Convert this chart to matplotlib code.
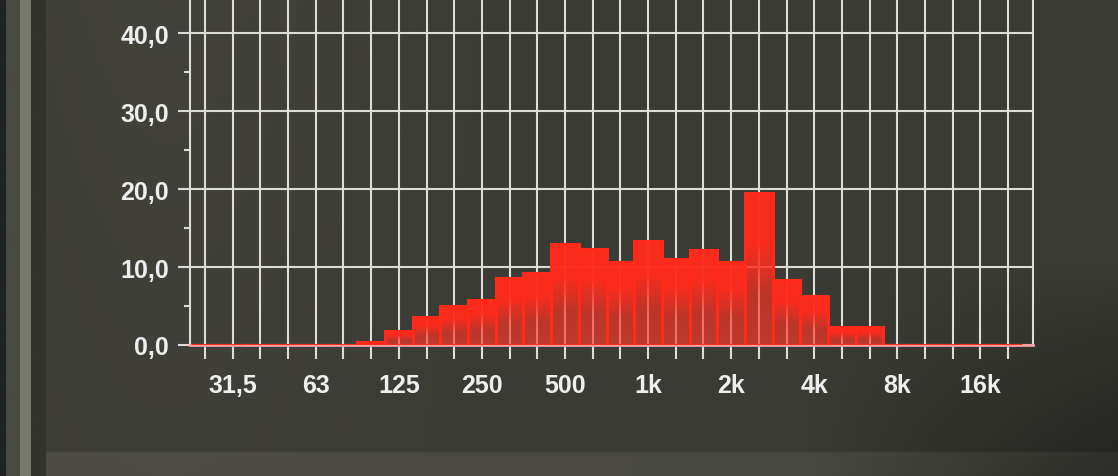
import numpy as np
import matplotlib
matplotlib.use("Agg")
import matplotlib.pyplot as plt
from matplotlib.ticker import FixedLocator, NullFormatter

# ---- data (1/3-octave bands) ----
bands = ["25", "31,5", "40", "50", "63", "80", "100", "125", "160", "200",
         "250", "315", "400", "500", "630", "800", "1k", "1,25k", "1,6k", "2k",
         "2,5k", "3,15k", "4k", "5k", "6,3k", "8k", "10k", "12,5k", "16k", "20k"]
levels = [0, 0, 0, 0, 0, 0, 0.4, 1.8, 3.6, 5.0,
          5.8, 8.6, 9.2, 12.9, 12.3, 10.7, 13.4, 11.1, 12.2, 10.7,
          19.5, 8.3, 6.3, 2.3, 2.3, 0, 0, 0, 0, 0]
shown_labels = ["31,5", "63", "125", "250", "500", "1k", "2k", "4k", "8k", "16k"]
y_major = [0, 10, 20, 30, 40]
y_major_labels = ["0,0", "10,0", "20,0", "30,0", "40,0"]
y_minor = [5, 15, 25, 35]

W, H = 1118, 477
fig = plt.figure(figsize=(W / 100, H / 100), dpi=100)
fig.patch.set_facecolor("#3a3a34")

# ---- photographed-screen background ----
bg = fig.add_axes([0, 0, 1, 1], zorder=-10)
bg.set_axis_off()
nx, ny = W, 240
xx = np.linspace(0, 1, nx)[None, :]
yy = np.linspace(0, 1, ny)[:, None]
base = np.array([0x3b, 0x3b, 0x35]) / 255.0
light = 1.0 + 0.12 * np.exp(-((xx - 0.15) ** 2) / 0.04) * (0.5 + 0.5 * yy)
shadow = 1.0 - 0.30 * np.clip((xx - 0.72) / 0.28, 0, 1) * np.clip((0.45 - yy) / 0.45, 0, 1) * 1.4
img = base[None, None, :] * (light * np.clip(shadow, 0.6, 1))[:, :, None]
# left bezel
px = xx[0] * W
img[:, px < 6, :] = np.array([0x1e, 0x22, 0x24]) / 255.0
img[:, (px >= 6) & (px < 20), :] = np.array([0x48, 0x4a, 0x42]) / 255.0
img[:, (px >= 20) & (px < 31), :] = np.array([0x78, 0x7a, 0x6c]) / 255.0
img[:, (px >= 31) & (px < 46), :] = np.array([0x33, 0x34, 0x2e]) / 255.0
# bottom lighter panel
bottom = yy[:, 0] < 22 / H
img[bottom, 46:, :] = img[bottom, 46:, :] * 1.15 + 0.02
img = np.clip(img, 0, 1)
bg.imshow(img, extent=[0, 1, 0, 1], aspect="auto", origin="lower")
bg.set_xlim(0, 1)
bg.set_ylim(0, 1)

# ---- chart ----
left_px, right_px, base_px = 190, 1033, 346
ax = fig.add_axes([left_px / W, (H - base_px) / H, (right_px - left_px) / W, base_px / H])
ax.set_facecolor("none")

x = np.arange(len(bands))
red = "#ff2a1a"
bars = ax.bar(x, levels, width=1.0, color="none", edgecolor=red,
              linewidth=2.2, zorder=3)

# gradient fill in each bar
N = 200
f = np.linspace(1, 0, N)  # row 0 = bottom (f=1), top f=0
alpha = np.clip(1.0 - (f - 0.3) * 0.9, 0.66, 0.97)
grad = np.zeros((N, 1, 4))
grad[:, 0, 0] = 1.0
grad[:, 0, 1] = 0.17 + 0.08 * np.clip(f - 0.3, 0, 1)
grad[:, 0, 2] = 0.11 + 0.08 * np.clip(f - 0.3, 0, 1)
grad[:, 0, 3] = alpha
for p in bars.patches:
    h = p.get_height()
    if h <= 0:
        continue
    x0, w = p.get_x(), p.get_width()
    ax.imshow(grad, extent=[x0, x0 + w, 0, h], aspect="auto",
              origin="lower", zorder=2.5, interpolation="bilinear")

gc = "#dcdcd8"
ax.set_xlim(-0.54, 29.9)
ax.set_ylim(0, 44.4)

ax.xaxis.set_major_locator(FixedLocator(list(x)))
ax.set_xticklabels([b if b in shown_labels else "" for b in bands])
ax.yaxis.set_major_locator(FixedLocator(y_major))
ax.set_yticklabels(y_major_labels)
ax.yaxis.set_minor_locator(FixedLocator(y_minor))
ax.yaxis.set_minor_formatter(NullFormatter())

ax.grid(True, which="major", color=gc, linewidth=1.5, zorder=1)
ax.set_axisbelow(True)

ax.tick_params(axis="x", which="major", length=10, width=1.5, color=gc,
               pad=10, labelsize=18, labelcolor="#eeeeee")
ax.tick_params(axis="y", which="major", length=9, width=1.5, color=gc,
               pad=6, labelsize=18, labelcolor="#eeeeee")
ax.tick_params(axis="y", which="minor", length=4, width=1.5, color=gc)
for lab in ax.get_xticklabels() + ax.get_yticklabels():
    lab.set_fontweight("bold")
    lab.set_fontfamily("Liberation Sans")

for s in ["left", "right"]:
    ax.spines[s].set_color(gc)
    ax.spines[s].set_linewidth(1.5)
ax.spines["top"].set_visible(False)
ax.spines["bottom"].set_color("#f0a0a0")
ax.spines["bottom"].set_linewidth(2.0)

fig.savefig("out.png", dpi=100, facecolor=fig.get_facecolor())
